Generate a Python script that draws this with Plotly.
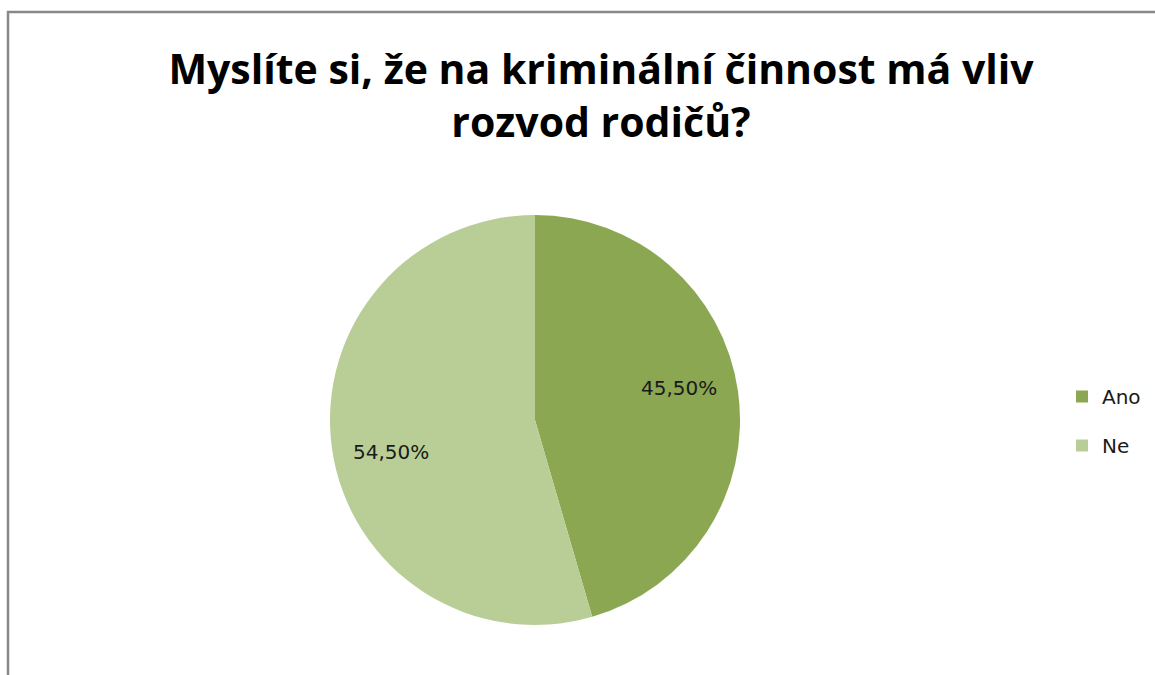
import math
import plotly.graph_objects as go

categories = ["Ano", "Ne"]
values = [45.5, 54.5]
colors = ["#8BA752", "#B9CE97"]
title_text = "Myslíte si, že na kriminální činnost má vliv<br>rozvod rodičů?"

W, H = 1155, 675
cx, cy, r = 535, 420, 205
label_font = dict(family="DejaVu Sans", size=20, color="#1a1a1a")

fig = go.Figure(go.Pie(
    labels=categories,
    values=values,
    sort=False,
    direction="clockwise",
    rotation=0,
    marker=dict(colors=colors, line=dict(width=0)),
    textinfo="none",
    showlegend=False,
    domain=dict(x=[(cx - r) / W, (cx + r) / W],
                y=[(H - cy - r) / H, (H - cy + r) / H]),
    hoverinfo="label+percent",
))

# legend entries (one group per category so spacing can be controlled)
for name, col in zip(categories, colors):
    fig.add_trace(go.Scatter(
        x=[None], y=[None], mode="markers", name=name, legendgroup=name,
        marker=dict(symbol="square", size=12, color=col),
        hoverinfo="skip"))

# percentage labels placed at each slice's mid-angle (derived from the data)
total = sum(values)
annotations = []
cum = 0.0
for v in values:
    mid = (cum + v / 2) / total * 2 * math.pi - math.radians(4.5)
    cum += v
    px = cx + 0.72 * r * math.sin(mid)
    py = cy - 0.72 * r * math.cos(mid)
    annotations.append(dict(
        x=px / W, y=1 - py / H, xref="paper", yref="paper",
        text=f"{v / total * 100:.2f}%".replace(".", ","),
        showarrow=False, xanchor="center", yanchor="middle",
        font=label_font))

fig.update_layout(
    width=W, height=H,
    margin=dict(l=0, r=0, t=0, b=0),
    paper_bgcolor="white",
    plot_bgcolor="white",
    separators=", ",
    xaxis=dict(visible=False),
    yaxis=dict(visible=False),
    title=dict(text="<b>" + title_text + "</b>",
               x=601 / W, xanchor="center",
               y=1 - 84 / H, yanchor="top",
               font=dict(family="Open Sans", size=41, color="black")),
    legend=dict(x=1062 / W, xanchor="left", y=1 - 421 / H, yanchor="middle",
                font=label_font,
                itemwidth=30, tracegroupgap=20),
    annotations=annotations,
    shapes=[dict(type="rect", xref="paper", yref="paper",
                 x0=8 / W, x1=1.02, y0=-0.02, y1=1 - 12 / H,
                 line=dict(color="#888888", width=2.5), layer="below")],
)

fig.write_html("out.html", config={"displayModeBar": False},
               post_script="document.body.style.margin='0';document.body.style.overflow='hidden';")
